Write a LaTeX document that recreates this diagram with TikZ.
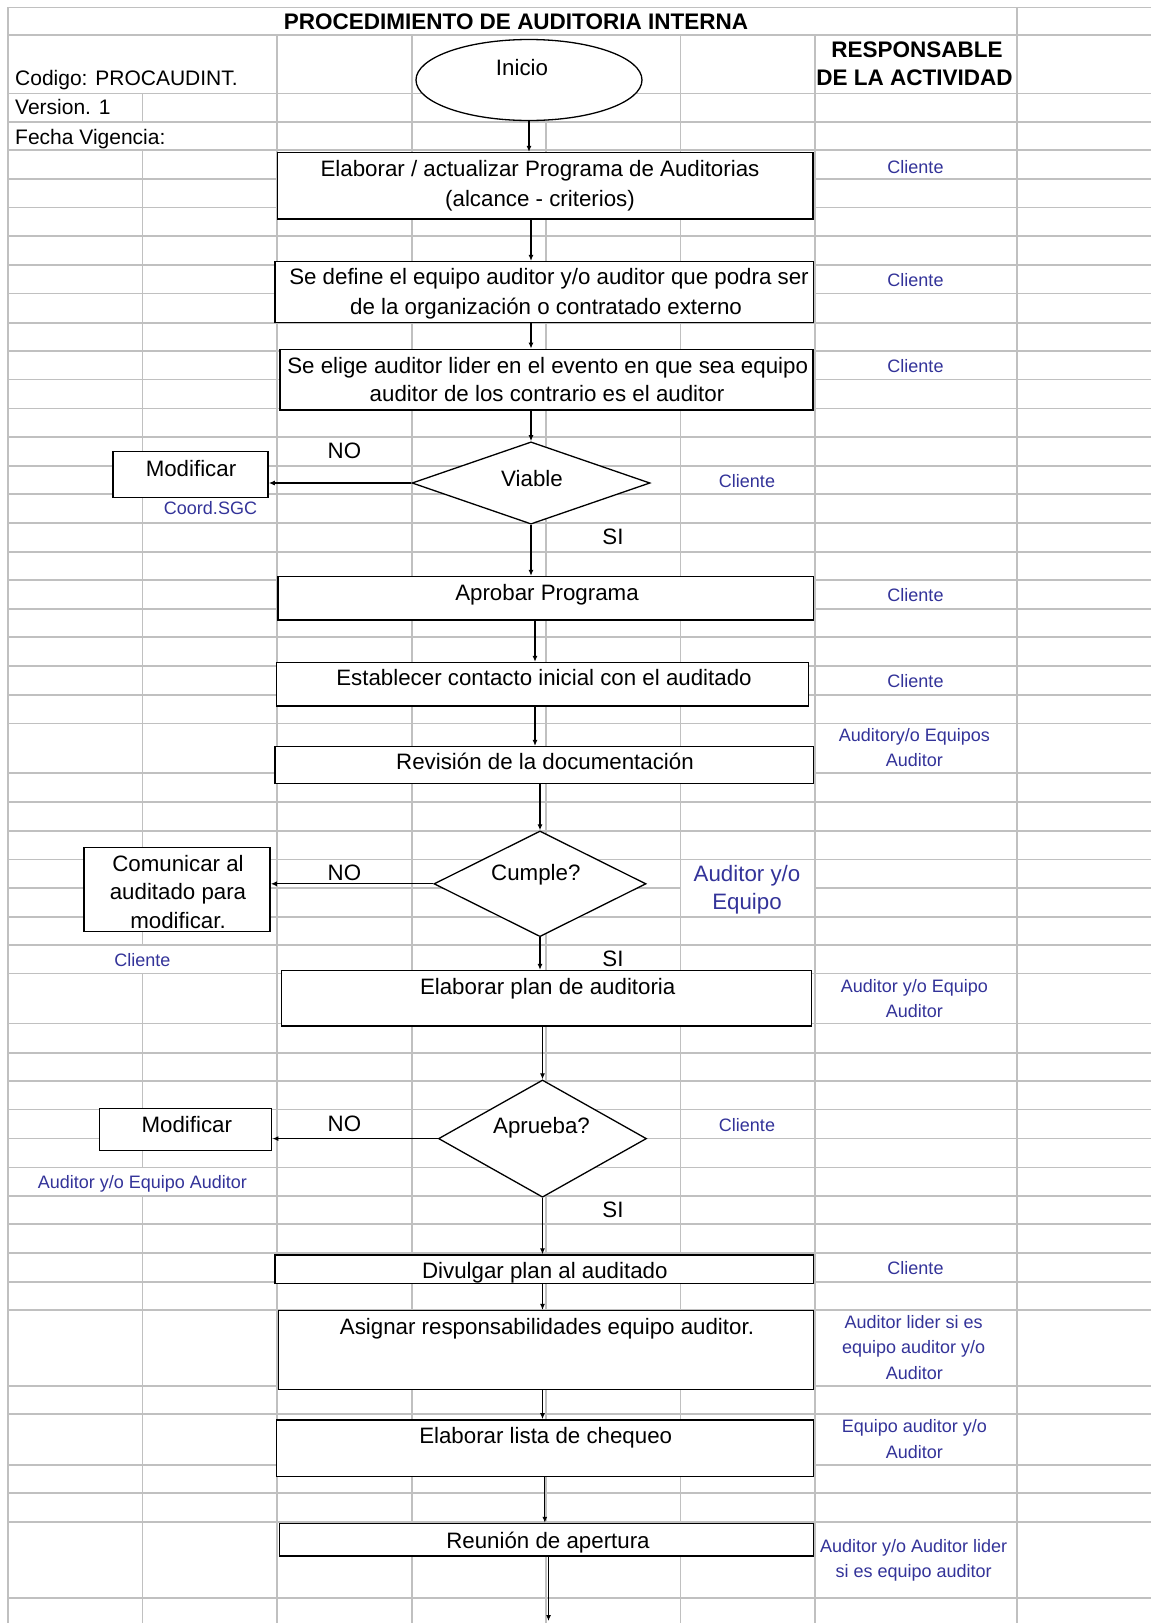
\documentclass[tikz,border=0pt]{standalone}
\usepackage{fontspec}
\setmainfont{Liberation Sans}
\usetikzlibrary{shapes.geometric,arrows.meta}
\definecolor{gridc}{RGB}{192,192,192}
\definecolor{lblue}{RGB}{51,51,153}
\begin{document}
\begin{tikzpicture}[x=1pt,y=-1pt,
  gridline/.style={draw=gridc, line width=1.6pt},
  box/.style={draw=black, fill=white, line width=1.5pt, rectangle, inner sep=0pt},
  dia/.style={draw=black, fill=white, line width=1.3pt, diamond, inner sep=0pt},
  oval/.style={draw=black, fill=white, line width=1.3pt, ellipse, inner sep=0pt},
  arr/.style={draw=black, line width=1.3pt, -{Latex[length=6pt,width=5pt]}},
  txt/.style={font=\fontsize{22.3}{25}\selectfont, inner sep=0pt, anchor=base},
  txtl/.style={font=\fontsize{21}{25}\selectfont, inner sep=0pt, anchor=base west},
  hd/.style={font=\bfseries\fontsize{22.5}{25}\selectfont, inner sep=0pt, anchor=base},
  bl/.style={font=\fontsize{18}{22}\selectfont, text=lblue, inner sep=0pt, anchor=base},
  blbig/.style={font=\fontsize{22.3}{25}\selectfont, text=lblue, inner sep=0pt, anchor=base}
]
\useasboundingbox (0,0) rectangle (1151,1623);
\fill[white] (0,0) rectangle (1151,1623);

% ---------- grid ----------
\foreach \y in {7.3,35,93.3,121.7,150,179,207.3,236,265,293.3,322.7,350.7,379.3,408.3,436.7,465.7,494,522.7,551.7,580,609,637,666,695,723.3,772.7,801.7,830.7,859.3,916.7,945,973.3,1023.3,1052.7,1080.7,1109.3,1138.3,1167.3,1196,1224,1252.7,1281.7,1310,1386,1414,1465,1492.7,1521.7,1597.7}
  \draw[gridline] (8,\y) -- (1151,\y);
\draw[gridline] (8,887.7) -- (680.5,887.7) (815,887.7) -- (1151,887.7);
\draw[gridline] (8,7.3) -- (8,1623);
\draw[gridline] (142.5,93.3) -- (142.5,121.7) (142.5,150) -- (142.5,945)
  (142.5,973.3) -- (142.5,1167.3) (142.5,1196) -- (142.5,1623);
\foreach \x in {277,412,680.5,815}
  \draw[gridline] (\x,35) -- (\x,1623);
\draw[gridline] (546,93.3) -- (546,1623);
\draw[gridline] (1017,7.3) -- (1017,1623);

% ---------- header texts ----------
\node[hd] (title) at (516,29.2) {PROCEDIMIENTO DE AUDITORIA INTERNA};
\node[txtl] (cod) at (15,85.3) {Codigo: PROCAUDINT.};
\node[txtl] (ver) at (15,114.7) {Version. 1};
\node[txtl] (fec) at (15,144.7) {Fecha Vigencia:};
\node[hd] (resp1) at (916.9,57.5) {RESPONSABLE};
\node[hd] (resp2) at (914.5,85.8) {DE LA ACTIVIDAD};

% ---------- shapes ----------
\node[oval, minimum width=226, minimum height=81] (ini) at (529,80) {};
\node[box, minimum width=535.5, minimum height=66.3] (b1) at (545.25,185.85) {};
\node[box, minimum width=538.5, minimum height=61] (b2) at (544,292.2) {};
\node[box, minimum width=533, minimum height=60.7] (b3) at (546.5,379.7) {};
\node[dia, minimum width=238, minimum height=82.3] (d1) at (531,483) {};
\node[box, minimum width=155, minimum height=46] (m1) at (190.5,474.7) {};
\node[box, minimum width=535.3, minimum height=43.3] (b4) at (545.7,598.3) {};
\node[box, minimum width=532, minimum height=43.3] (b5) at (542.3,684.3) {};
\node[box, minimum width=538.5, minimum height=36.6] (b6) at (544,765) {};
\node[dia, minimum width=212, minimum height=105.7] (d2) at (540,883.8) {};
\node[box, minimum width=185.8, minimum height=84] (c1) at (177.1,889.7) {};
\node[box, minimum width=530, minimum height=55.3] (b7) at (546.4,998.3) {};
\node[dia, minimum width=208, minimum height=117.3] (d3) at (542.5,1138.6) {};
\node[box, minimum width=172.2, minimum height=42.4] (m2) at (185.6,1129.5) {};
\node[box, minimum width=538.5, minimum height=28.3] (b8) at (544,1269.2) {};
\node[box, minimum width=535, minimum height=78.6] (b9) at (545.8,1350) {};
\node[box, minimum width=537, minimum height=56.7] (b10) at (544.8,1448.3) {};
\node[box, minimum width=534, minimum height=32.5] (b11) at (546.4,1539.8) {};

% ---------- connectors ----------
\coordinate (ax) at (535,0);
\coordinate (fin) at (548.5,1621);
\draw[arr] (ini.south) -- (ini.south |- b1.north);
\draw[arr] (b1.south -| d1.north) -- (b2.north -| d1.north);
\draw[arr] (b2.south -| d1.north) -- (b3.north -| d1.north);
\draw[arr] (b3.south -| d1.north) -- (d1.north);
\draw[arr] (d1.south) -- (d1.south |- b4.north);
\draw[arr] (b4.south -| ax) -- (b5.north -| ax);
\draw[arr] (b5.south -| ax) -- (b6.north -| ax);
\draw[arr] (b6.south -| d2.north) -- (d2.north);
\draw[arr] (d2.south) -- (d2.south |- b7.north);
\draw[arr] (b7.south -| d3.north) -- (d3.north);
\draw[arr] (d3.south) -- (d3.south |- b8.north);
\draw[arr] (b8.south -| d3.south) -- (b9.north -| d3.south);
\draw[arr] (b9.south -| d3.south) -- (b10.north -| d3.south);
\draw[arr] (b10.south) -- (b10.south |- b11.north);
\draw[arr] (b11.south -| fin) -- (fin);
\draw[arr] (d1.west) -- (d1.west -| m1.east);
\draw[arr] (d2.west) -- (d2.west -| c1.east);
\draw[arr] (d3.west) -- (d3.west -| m2.east);

% ---------- shape texts ----------
\node[txt] (tini) at (522,75.3) {Inicio};
\node[txt] (t1a) at (540,176.5) {Elaborar / actualizar Programa de Auditorias};
\node[txt] (t1b) at (540,206.5) {(alcance - criterios)};
\node[txt] (t2a) at (549,284.7) {Se define el equipo auditor y/o auditor que podra ser};
\node[txt] (t2b) at (546,314) {de la organización o contratado externo};
\node[txt] (t3a) at (547.7,373) {Se elige auditor lider en el evento en que sea equipo};
\node[txt] (t3b) at (547,401.3) {auditor de los contrario es el auditor};
\node[txt] (tv) at (532,486) {Viable};
\node[txt] (tm1) at (191,476.3) {Modificar};
\node[txt] (no1) at (344.4,458) {NO};
\node[txt] (si1) at (613,544.7) {SI};
\node[txt] (t4) at (547,600.3) {Aprobar Programa};
\node[txt] (t5) at (544,685.7) {Establecer contacto inicial con el auditado};
\node[txt] (t6) at (545,769.7) {Revisión de la documentación};
\node[txt] (tc) at (535.8,880.7) {Cumple?};
\node[txt] (tc1a) at (178,871.3) {Comunicar al};
\node[txt] (tc1b) at (178,899.7) {auditado para};
\node[txt] (tc1c) at (178,928) {modificar.};
\node[txt] (no2) at (344.4,880.7) {NO};
\node[txt] (si2) at (613,966.3) {SI};
\node[txt] (t7) at (547.7,994) {Elaborar plan de auditoria};
\node[txt] (ta) at (541.5,1133.7) {Aprueba?};
\node[txt] (tm2) at (186.8,1132) {Modificar};
\node[txt] (no3) at (344.4,1131.3) {NO};
\node[txt] (si3) at (613,1217.3) {SI};
\node[txt] (t8) at (544.8,1278) {Divulgar plan al auditado};
\node[txt] (t9) at (547,1334) {Asignar responsabilidades equipo auditor.};
\node[txt] (t10) at (545.7,1443) {Elaborar lista de chequeo};
\node[txt] (t11) at (548,1548) {Reunión de apertura};

% ---------- responsible labels ----------
\node[bl] (r1) at (915.5,173.2) {Cliente};
\node[bl] (r2) at (915.5,286.5) {Cliente};
\node[bl] (r3) at (915.5,372.5) {Cliente};
\node[bl] (r4) at (747,487.2) {Cliente};
\node[bl] (r5) at (210.5,514.8) {Coord.SGC};
\node[bl] (r6) at (915.5,601.5) {Cliente};
\node[bl] (r7) at (915.5,687.2) {Cliente};
\node[bl] (r8a) at (914.3,741.5) {Auditory/o Equipos};
\node[bl] (r8b) at (914.3,766.5) {Auditor};
\node[blbig] (r9a) at (747,881.3) {Auditor y/o};
\node[blbig] (r9b) at (747,909.7) {Equipo};
\node[bl] (r10) at (142.4,966.5) {Cliente};
\node[bl] (r11a) at (914.3,992.5) {Auditor y/o Equipo};
\node[bl] (r11b) at (914.3,1017.2) {Auditor};
\node[bl] (r12) at (747,1131.5) {Cliente};
\node[bl] (r13) at (142.4,1188.2) {Auditor y/o Equipo Auditor};
\node[bl] (r14) at (915.5,1274.8) {Cliente};
\node[bl] (r15a) at (913.6,1328.2) {Auditor lider si es};
\node[bl] (r15b) at (913.6,1353.2) {equipo auditor y/o};
\node[bl] (r15c) at (914.3,1379.2) {Auditor};
\node[bl] (r16a) at (914.3,1432.5) {Equipo auditor y/o};
\node[bl] (r16b) at (914.3,1458.2) {Auditor};
\node[bl] (r17a) at (913.6,1552.5) {Auditor y/o Auditor lider};
\node[bl] (r17b) at (913.6,1577.2) {si es equipo auditor};
\end{tikzpicture}
\end{document}
